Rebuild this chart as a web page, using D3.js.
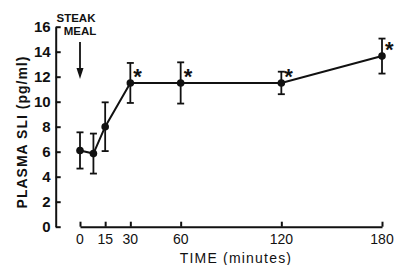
<!DOCTYPE html>
<html lang="en">

<head>
  <meta charset="UTF-8">
  <script src="https://d3js.org/d3.v7.min.js"></script>
  <style>
    body { margin: 0; background: #fff; }
    text { font-family: "Liberation Sans", Arial, sans-serif; fill: #111; }
  </style>
</head>

<body>
  <svg id="chart" width="398" height="265"></svg>

  <script>
    // values
    const times = [0, 8, 15, 30, 60, 120, 180];
    const sliMean = [6.1, 5.85, 8.0, 11.5, 11.5, 11.5, 13.65];
    const sliErr = [1.45, 1.6, 1.95, 1.6, 1.65, 0.9, 1.4];
    const significant = [false, false, false, true, true, true, true];
    const xTicks = [0, 15, 30, 60, 120, 180];
    const yTicks = [0, 2, 4, 6, 8, 10, 12, 14, 16];

    const svg = d3.select("#chart");
    const ink = "#111";

    const x = d3.scaleLinear().domain([0, 180]).range([80, 382]);
    const y = d3.scaleLinear().domain([0, 16]).range([226.7, 26.7]);
    const axisX = 55.7;

    // y axis
    const yAxis = svg.append("g")
      .attr("transform", "translate(" + axisX + ",0)")
      .call(d3.axisRight(y).tickValues(yTicks).tickSize(5).tickSizeOuter(0).tickFormat(""));
    yAxis.select(".domain").attr("stroke", ink).attr("stroke-width", 2);
    yAxis.selectAll(".tick line").attr("stroke", ink).attr("stroke-width", 2);

    svg.append("g").selectAll("text.ylab").data(yTicks)
      .join("text")
      .attr("class", "ylab")
      .attr("x", axisX - 5)
      .attr("y", d => y(d) + 5.5)
      .attr("text-anchor", "end")
      .attr("font-size", 15)
      .attr("font-weight", "bold")
      .text(d => d);

    // x axis (starts at time 0, detached from y axis)
    const xAxis = svg.append("g")
      .attr("transform", "translate(0," + y(0) + ")")
      .call(d3.axisTop(x).tickValues(xTicks).tickSize(5).tickSizeOuter(0).tickFormat(""));
    xAxis.select(".domain").attr("stroke", ink).attr("stroke-width", 2);
    xAxis.selectAll(".tick line").attr("stroke", ink).attr("stroke-width", 2);

    svg.append("g").selectAll("text.xlab").data(xTicks)
      .join("text")
      .attr("class", "xlab")
      .attr("x", d => x(d))
      .attr("y", y(0) + 17)
      .attr("text-anchor", "middle")
      .attr("font-size", 14)
      .text(d => d);

    // axis titles
    svg.append("text")
      .attr("x", 236)
      .attr("y", 263)
      .attr("text-anchor", "middle")
      .attr("font-size", 14)
      .attr("letter-spacing", 1.2)
      .text("TIME (minutes)");

    svg.append("text")
      .attr("transform", "translate(27,132) rotate(-90)")
      .attr("text-anchor", "middle")
      .attr("font-size", 14)
      .attr("font-weight", "bold")
      .attr("letter-spacing", 1)
      .text("PLASMA SLI (pg/ml)");

    // steak meal annotation
    svg.append("text")
      .attr("x", 76).attr("y", 22)
      .attr("text-anchor", "middle")
      .attr("font-size", 11.5).attr("font-weight", "bold")
      .text("STEAK");
    svg.append("text")
      .attr("x", 80).attr("y", 35)
      .attr("text-anchor", "middle")
      .attr("font-size", 11.5).attr("font-weight", "bold")
      .text("MEAL");
    svg.append("line")
      .attr("x1", x(0)).attr("x2", x(0))
      .attr("y1", 42).attr("y2", 70)
      .attr("stroke", ink).attr("stroke-width", 1.8);
    svg.append("path")
      .attr("d", "M" + (x(0) - 3.5) + ",68 L" + (x(0) + 3.5) + ",68 L" + x(0) + ",79 Z")
      .attr("fill", ink);

    const pts = times.map((t, i) => ({ t: t, m: sliMean[i], e: sliErr[i], s: significant[i] }));

    // mean line
    svg.append("path")
      .datum(pts)
      .attr("fill", "none")
      .attr("stroke", ink)
      .attr("stroke-width", 2)
      .attr("d", d3.line().x(d => x(d.t)).y(d => y(d.m)));

    // error bars
    const bars = svg.append("g").selectAll("g.err").data(pts).join("g").attr("class", "err");
    bars.append("line")
      .attr("x1", d => x(d.t)).attr("x2", d => x(d.t))
      .attr("y1", d => y(d.m + d.e)).attr("y2", d => y(d.m - d.e))
      .attr("stroke", ink).attr("stroke-width", 1.8);
    bars.append("line")
      .attr("x1", d => x(d.t) - 3.5).attr("x2", d => x(d.t) + 3.5)
      .attr("y1", d => y(d.m + d.e)).attr("y2", d => y(d.m + d.e))
      .attr("stroke", ink).attr("stroke-width", 1.8);
    bars.append("line")
      .attr("x1", d => x(d.t) - 3.5).attr("x2", d => x(d.t) + 3.5)
      .attr("y1", d => y(d.m - d.e)).attr("y2", d => y(d.m - d.e))
      .attr("stroke", ink).attr("stroke-width", 1.8);

    // points
    svg.append("g").selectAll("circle").data(pts)
      .join("circle")
      .attr("cx", d => x(d.t))
      .attr("cy", d => y(d.m))
      .attr("r", 3.8)
      .attr("fill", ink);

    // significance marks
    svg.append("g").selectAll("text.star").data(pts.filter(d => d.s))
      .join("text")
      .attr("class", "star")
      .attr("x", d => x(d.t) + 3)
      .attr("y", d => y(d.m) + 1)
      .attr("font-size", 22)
      .attr("font-weight", "bold")
      .text("*");
  </script>
</body>

</html>
